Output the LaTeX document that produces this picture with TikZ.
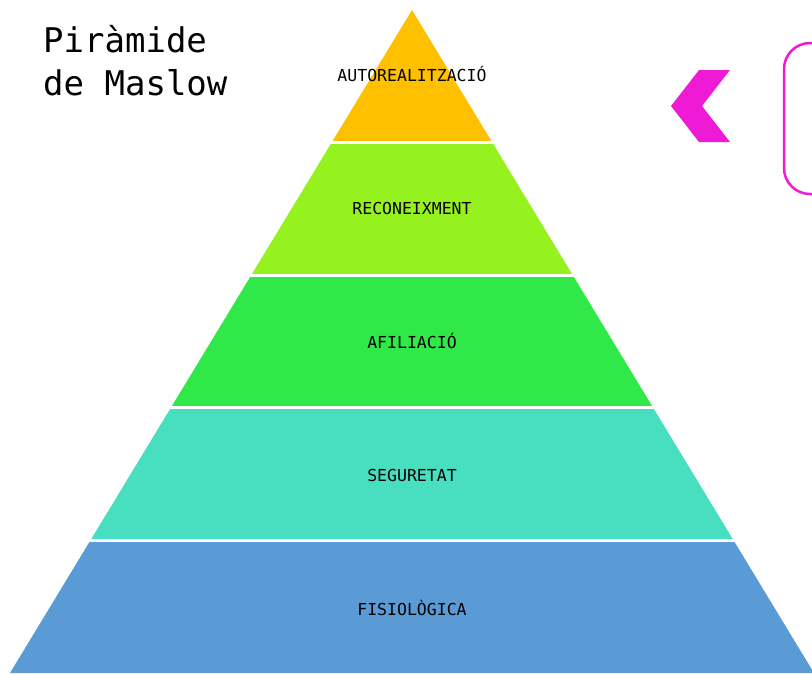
\documentclass[tikz,border=0pt]{standalone}
\usepackage{fontspec}
\setmonofont{DejaVu Sans Mono}
\usepackage{xcolor}
\usepackage{tikz}
\usetikzlibrary{positioning}

\definecolor{selfcol}{HTML}{FFC000}
\definecolor{esteemcol}{HTML}{96F21E}
\definecolor{lovecol}{HTML}{30E848}
\definecolor{safetycol}{HTML}{48DEC0}
\definecolor{bodycol}{HTML}{5B9BD5}
\definecolor{pinkcol}{HTML}{EE1AD5}

\begin{document}
\begin{tikzpicture}[
    x=1pt, y=-1pt,
    level/.style={draw=none},
    divider/.style={draw=white, line width=3pt},
    levellabel/.style={font=\ttfamily\fontsize{16.5}{18}\selectfont, inner sep=0pt},
    heading/.style={font=\ttfamily\fontsize{34}{43}\selectfont, align=left, inner sep=0pt, anchor=base west}
]
\useasboundingbox (0,0) rectangle (812,673);

% Title
\node[heading] (title) at (43,95) {Piràmide\\de Maslow};

% Pyramid levels
\fill[level, selfcol] (412,10) -- (492.4,142.6) -- (331.6,142.6) -- cycle;
\fill[level, esteemcol] (331.6,142.6) -- (492.4,142.6) -- (572.8,275.2) -- (251.2,275.2) -- cycle;
\fill[level, lovecol] (251.2,275.2) -- (572.8,275.2) -- (653.2,407.8) -- (170.8,407.8) -- cycle;
\fill[level, safetycol] (170.8,407.8) -- (653.2,407.8) -- (733.6,540.4) -- (90.4,540.4) -- cycle;
\fill[level, bodycol] (90.4,540.4) -- (733.6,540.4) -- (814,673) -- (10,673) -- cycle;

% Gaps between levels
\coordinate (g1l) at (320,142.6);
\coordinate (g1r) at (504,142.6);
\coordinate (g2l) at (240,275.2);
\coordinate (g2r) at (584,275.2);
\coordinate (g3l) at (160,407.8);
\coordinate (g3r) at (664,407.8);
\coordinate (g4l) at (80,540.4);
\coordinate (g4r) at (744,540.4);
\draw[divider] (g1l) -- (g1r);
\draw[divider] (g2l) -- (g2r);
\draw[divider] (g3l) -- (g3r);
\draw[divider] (g4l) -- (g4r);

% Labels
\node[levellabel] (self) at (412,74) {AUTOREALITZACIÓ};
\node[levellabel] (esteem) at (412,208) {RECONEIXMENT};
\node[levellabel] (love) at (412,341) {AFILIACIÓ};
\node[levellabel] (safety) at (412,475) {SEGURETAT};
\node[levellabel] (body) at (412,608) {FISIOLÒGICA};

% Chevron and side box
\fill[pinkcol] (699,70) -- (730,70) -- (702,106) -- (730,142) -- (699,142) -- (671,106) -- cycle;
\draw[pinkcol, line width=2.5pt, rounded corners=26pt] (784,43) rectangle (850,194);

\end{tikzpicture}
\end{document}
